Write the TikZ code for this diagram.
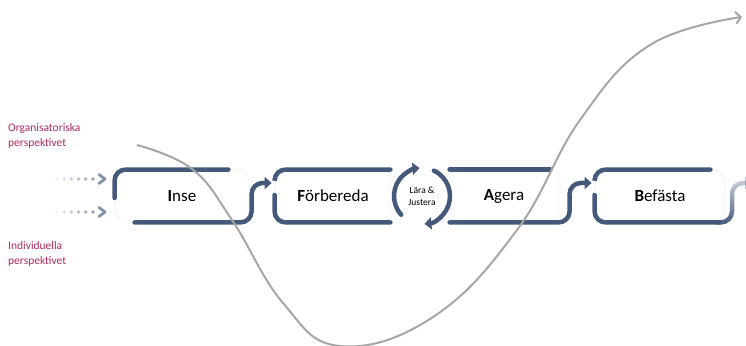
\documentclass[tikz,border=0pt]{standalone}
\usepackage{fontspec}
\setmainfont{Carlito}
\usetikzlibrary{positioning}
\usetikzlibrary{arrows.meta}
\usetikzlibrary{fadings}
\definecolor{flowblue}{HTML}{45597A}
\definecolor{persp}{HTML}{B0285F}
\definecolor{dotblue}{HTML}{8391AB}
\definecolor{curvegray}{HTML}{A6A6A6}
\tikzfading[name=fadeup, top color=transparent!70, bottom color=transparent!0]
\tikzset{
  stage/.style={minimum height=52pt, inner sep=0pt, draw=black!5, line width=0.8pt, rounded corners=12pt, font=\fontsize{17}{20}\selectfont},
  flow/.style={draw=flowblue, line width=4.5pt, line cap=round, rounded corners=11pt},
  flowtip/.style={-{Triangle[width=12pt,length=7pt]}},
  persplabel/.style={text=persp, font=\fontsize{11.5}{15}\selectfont, align=left, anchor=west, inner sep=0pt}
}

\begin{document}
\begin{tikzpicture}[x=1pt, y=1pt]
\useasboundingbox (0,0) rectangle (746,345);

\node[stage, minimum width=134pt] (inse) at (182,149) {\textbf{I}nse};
\node[stage, minimum width=116pt] (forb) at (333,149) {\textbf{F}örbereda};
\node[stage, minimum width=108pt] (agera) at (504,149) {\textbf{A}gera};
\node[stage, minimum width=130pt] (befasta) at (660,149) {\textbf{B}efästa};
\node[circle, minimum size=56pt, inner sep=0pt, outer sep=0pt, align=center, font=\fontsize{9.5}{12}\selectfont] (cyc) at (422,149) {Lära \&\\Justera};

\coordinate (forbin) at ([xshift=-3pt,yshift=13pt]forb.west);
\coordinate (befin) at ([xshift=-3pt,yshift=13pt]befasta.west);
\coordinate (out) at (752,162);

% Inse
\draw[flow] ([yshift=-2pt]inse.west) |- ([xshift=-21pt]inse.north east);
\draw[flow, flowtip] ([xshift=20pt]inse.south west) -| ([xshift=-20pt]forbin) -- (forbin);
% Förbereda
\draw[flow] ([yshift=17pt]forb.west) |- ([xshift=-1pt]forb.north east);
\draw[flow] ([yshift=1pt]forb.west) |- ([xshift=-1pt]forb.south east);
% Lära & Justera
\draw[flow, flowtip] (cyc.222) arc[start angle=222, end angle=95, radius=28pt];
\draw[flow, flowtip] (cyc.65) arc[start angle=65, end angle=-85, radius=28pt];
% Agera
\draw[flow] (agera.north west) -- ([xshift=-8pt]agera.north east);
\draw[flow, flowtip] (agera.south west) -| ([xshift=-22pt]befin) -- (befin);
% Befästa
\draw[flow] ([yshift=17pt]befasta.west) |- ([xshift=-15pt]befasta.north east);
\draw[flow] ([yshift=1pt]befasta.west) |- ([xshift=-6pt]befasta.south east);
\draw[flow, flowtip, path fading=fadeup] ([xshift=-8pt]befasta.south east) -| ([xshift=-20pt]out) -- (out);

% perspektiv
\node[persplabel] (org) at (8,209.5) {Organisatoriska\\perspektivet};
\node[persplabel] (ind) at (8,91.5) {Individuella\\perspektivet};
\coordinate (orgtip) at (105,166);
\coordinate (indtip) at (105,133);
\foreach \t in {orgtip, indtip}{
  \foreach \i in {0,...,5}
    \fill[dotblue, opacity=0.12+0.15*\i] ([xshift={(-48+7.2*\i)*1pt}]\t) circle (1.9pt);
  \draw[dotblue, line width=2.8pt, line cap=round, line join=round] ([xshift=-6pt,yshift=4.5pt]\t) -- (\t) -- ([xshift=-6pt,yshift=-4.5pt]\t);
}

% kurvan
\draw[curvegray, line width=2pt, -{Straight Barb[length=5pt,width=12pt]}] plot[smooth, tension=0.7] coordinates {
  (137,200) (192,176) (232,125) (283,42) (340,-1) (433,28) (517,115)
  (580,225) (650,300) (742,328)};
\end{tikzpicture}
\end{document}
